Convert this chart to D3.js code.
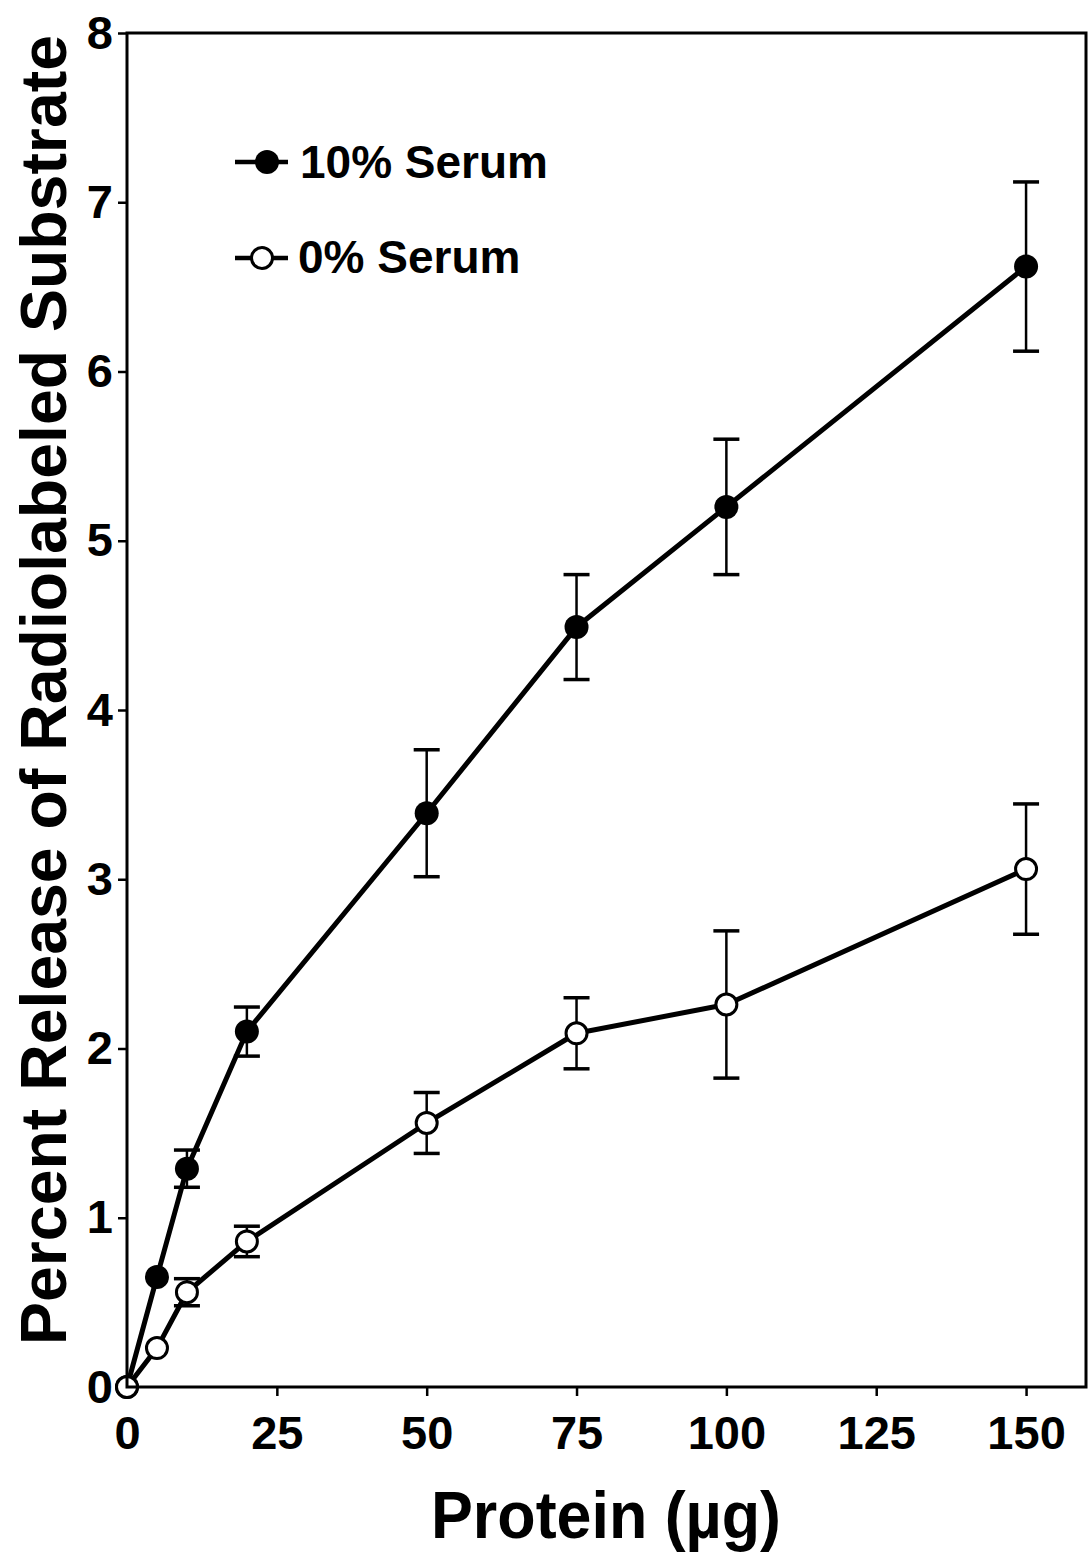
<!DOCTYPE html>
<html>
<head>
<meta charset="utf-8">
<script src="https://cdn.jsdelivr.net/npm/d3@7/dist/d3.min.js"></script>
<style>
  html, body { margin: 0; padding: 0; background: #fff; }
  svg { display: block; }
  text { font-family: "Liberation Sans", Arial, Helvetica, sans-serif; font-weight: bold; fill: #000; }
</style>
</head>
<body>
<svg id="chart" width="1088" height="1554"></svg>
<script>
// Protein amounts (µg) on the x axis
const protein = [0, 5, 10, 20, 50, 75, 100, 150];

// Percent release, 10% serum, with error half-widths
const serum10 = [0, 0.65, 1.29, 2.10, 3.39, 4.49, 5.20, 6.62];
const serum10Err = [0, 0, 0.11, 0.145, 0.375, 0.31, 0.40, 0.50];

// Percent release, 0% serum, with error half-widths
const serum0 = [0, 0.23, 0.56, 0.86, 1.56, 2.09, 2.26, 3.06];
const serum0Err = [0, 0, 0.08, 0.09, 0.18, 0.21, 0.435, 0.385];

const xTicks = [0, 25, 50, 75, 100, 125, 150];
const yTicks = [0, 1, 2, 3, 4, 5, 6, 7, 8];

const seriesNames = ["10% Serum", "0% Serum"];

const svg = d3.select("#chart");
const plotLeft = 127, plotRight = 1086, plotTop = 33, plotBottom = 1387;

const x = d3.scaleLinear().domain([0, 160]).range([plotLeft, plotRight]);
const y = d3.scaleLinear().domain([0, 8]).range([plotBottom, plotTop]);

const series = [
  { name: seriesNames[0], values: serum10, err: serum10Err, filled: true },
  { name: seriesNames[1], values: serum0, err: serum0Err, filled: false }
];

// Axes (ticks and labels only; the frame is drawn separately)
const xAxis = d3.axisBottom(x).tickValues(xTicks).tickSize(9).tickPadding(20);
const gx = svg.append("g").attr("transform", `translate(0,${plotBottom})`).call(xAxis);
gx.select(".domain").remove();
gx.selectAll(".tick line").attr("stroke", "#000").attr("stroke-width", 2.5);
gx.selectAll(".tick text").attr("font-size", 47).attr("font-family", null);

const yAxis = d3.axisLeft(y).tickValues(yTicks).tickSize(9).tickPadding(5);
const gy = svg.append("g").attr("transform", `translate(${plotLeft},0)`).call(yAxis);
gy.select(".domain").remove();
gy.selectAll(".tick line").attr("stroke", "#000").attr("stroke-width", 2.5);
gy.selectAll(".tick text").attr("font-size", 47).attr("font-family", null);

// Error bars
const capHalf = 13;
series.forEach(s => {
  const g = svg.append("g");
  protein.forEach((p, i) => {
    const e = s.err[i];
    if (!e) return;
    const cx = x(p), y1 = y(s.values[i] + e), y2 = y(s.values[i] - e);
    g.append("line").attr("x1", cx).attr("x2", cx).attr("y1", y1).attr("y2", y2)
      .attr("stroke", "#000").attr("stroke-width", 2.5);
    [y1, y2].forEach(yy => {
      g.append("line").attr("x1", cx - capHalf).attr("x2", cx + capHalf)
        .attr("y1", yy).attr("y2", yy).attr("stroke", "#000").attr("stroke-width", 3.5);
    });
  });
});

// Connecting lines
const line = d3.line().x((d, i) => x(protein[i])).y(d => y(d));
series.forEach(s => {
  svg.append("path").datum(s.values).attr("d", line)
    .attr("fill", "none").attr("stroke", "#000").attr("stroke-width", 5)
    .attr("stroke-linejoin", "round");
});

// Markers
series.forEach(s => {
  svg.append("g").selectAll("circle").data(s.values).join("circle")
    .attr("cx", (d, i) => x(protein[i])).attr("cy", d => y(d))
    .attr("r", s.filled ? 12 : 10.5)
    .attr("fill", s.filled ? "#000" : "#fff")
    .attr("stroke", "#000").attr("stroke-width", s.filled ? 0 : 3);
});

// Plot frame
svg.append("rect").attr("x", plotLeft).attr("y", plotTop)
  .attr("width", plotRight - plotLeft).attr("height", plotBottom - plotTop)
  .attr("fill", "none").attr("stroke", "#000").attr("stroke-width", 3);

// Legend
const legendRows = [
  { s: series[0], ly: 162, tx: 300, ty: 178 },
  { s: series[1], ly: 258, tx: 298, ty: 273 }
];
legendRows.forEach(r => {
  const g = svg.append("g");
  g.append("line").attr("x1", 235).attr("x2", 288).attr("y1", r.ly).attr("y2", r.ly)
    .attr("stroke", "#000").attr("stroke-width", 4.5);
  g.append("circle").attr("cx", r.s.filled ? 267 : 262).attr("cy", r.ly)
    .attr("r", r.s.filled ? 12 : 10.5)
    .attr("fill", r.s.filled ? "#000" : "#fff")
    .attr("stroke", "#000").attr("stroke-width", r.s.filled ? 0 : 3);
  g.append("text").attr("x", r.tx).attr("y", r.ty).attr("font-size", 46)
    .text(r.s.name);
});

// Axis titles
svg.append("text")
  .attr("x", 606).attr("y", 1538)
  .attr("text-anchor", "middle").attr("font-size", 66)
  .attr("textLength", 350).attr("lengthAdjust", "spacingAndGlyphs")
  .text("Protein (µg)");

svg.append("text")
  .attr("transform", "translate(66,690) rotate(-90)")
  .attr("text-anchor", "middle").attr("font-size", 65)
  .attr("textLength", 1310).attr("lengthAdjust", "spacingAndGlyphs")
  .text("Percent Release of Radiolabeled Substrate");
</script>
</body>
</html>
